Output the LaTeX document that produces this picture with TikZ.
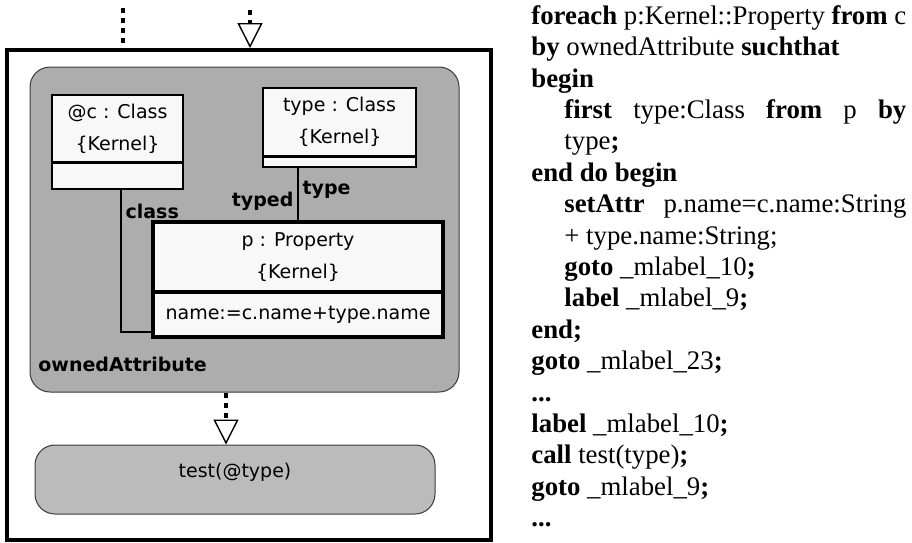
\documentclass[tikz,border=0pt]{standalone}
\usepackage{fontspec}
\newfontfamily\umlfont{DejaVu Sans}
\newfontfamily\codefont{Liberation Serif}
\usetikzlibrary{arrows.meta,positioning}

\definecolor{loopgray}{HTML}{ADADAD}
\definecolor{callgray}{HTML}{BBBBBB}
\definecolor{boxfill}{HTML}{F8F8F8}
\definecolor{edgegray}{HTML}{3A3A3A}

\tikzset{
  umltext/.style={font=\umlfont\fontsize{9.5}{16}\selectfont},
  objbox/.style={draw, line width=0.8pt, fill=boxfill, umltext, align=center, inner sep=0pt, outer sep=0pt},
  rolelabel/.style={font=\umlfont\bfseries\fontsize{9.5}{11}\selectfont, inner sep=2pt},
  dotline/.style={line width=2pt, dash pattern=on 2.5pt off 2.5pt},
  opentip/.style={-{Triangle[open, length=12.5pt, width=12.5pt, line width=0.7pt]}}
}

\begin{document}
\begin{tikzpicture}[x=0.5pt, y=-0.5pt]
  \useasboundingbox (0,0) rectangle (912,542);
  % rule frame and incoming flows
  \node[draw, line width=2pt, minimum width=242pt, minimum height=245pt, inner sep=0pt] (frame) at (249,295) {};
  \coordinate (src1) at (123,8);
  \coordinate (src2) at (250,10);
  \draw[dotline] (src1) -- (src1 |- frame.north);
  \draw[dotline, opentip] (src2) -- (src2 |- frame.north);

  % foreach region
  \node[draw=edgegray, line width=0.5pt, fill=loopgray, rounded corners=10pt, minimum width=214.5pt, minimum height=162.5pt] (loop) at (244.5,229.5) {};
  \node[rolelabel, anchor=west, inner sep=0pt] (loopname) at (38,364) {ownedAttribute};

  % objects
  \node[objbox, minimum width=65.5pt, minimum height=33.5pt] (cls) at (117.5,128.5) {@c : Class\\\{Kernel\}};
  \node[objbox, minimum width=65.5pt, minimum height=13.5pt, anchor=north] (clsatt) at (cls.south) {};
  \draw[line width=1.5pt] (cls.south west) -- (cls.south east);

  \node[objbox, minimum width=76.5pt, minimum height=34pt] (tcls) at (339.5,122) {type : Class\\\{Kernel\}};
  \node[objbox, minimum width=76.5pt, minimum height=5.5pt, anchor=north] (tclsatt) at (tcls.south) {};
  \draw[line width=1.5pt] (tcls.south west) -- (tcls.south east);

  \node[objbox, line width=2pt, minimum width=145pt, minimum height=35pt] (prop) at (298,257) {p : Property\\\{Kernel\}};
  \node[objbox, line width=2pt, minimum width=145pt, minimum height=22.5pt, anchor=north] (propatt) at (prop.south) {name:=c.name+type.name};

  % links
  \draw[line width=0.6pt] ([xshift=1.75pt]clsatt.south) |- ([yshift=2.5pt]propatt.south west)
    node[pos=0.077, anchor=west, rolelabel] (lblclass) {class};
  \draw[line width=0.6pt] (prop.north) -- (prop.north |- tclsatt.south)
    node[pos=0.38, anchor=east, rolelabel] (lbltyped) {typed}
    node[pos=0.58, anchor=west, rolelabel] (lbltype) {type};

  % call
  \node[draw=edgegray, line width=0.5pt, fill=callgray, rounded corners=10pt, minimum width=200pt, minimum height=34.5pt, umltext, text height=7pt, text depth=9.5pt] (test) at (235,479.5) {test(@type)};
  \coordinate (callin) at ([xshift=-4.5pt]test.north);
  \draw[dotline, opentip] (loop.south -| callin) -- (callin);

  % textual form
  \node[anchor=north west, inner sep=0pt, align=left, font=\codefont\fontsize{13.4}{15.7}\selectfont] (code) at (531,5) {%
    \textbf{foreach} p:Kernel::Property \textbf{from} c\\
    \textbf{by} ownedAttribute \textbf{suchthat}\\
    \textbf{begin}\\
    \hspace*{16.5pt}\makebox[171pt][s]{\textbf{first} type:Class \textbf{from} p \textbf{by}}\\
    \hspace*{16.5pt}type\textbf{;}\\
    \textbf{end do begin}\\
    \hspace*{16.5pt}\makebox[171pt][s]{\textbf{setAttr} p.name=c.name:String}\\
    \hspace*{16.5pt}+ type.name:String;\\
    \hspace*{16.5pt}\textbf{goto} \_mlabel\_10\textbf{;}\\
    \hspace*{16.5pt}\textbf{label} \_mlabel\_9\textbf{;}\\
    \textbf{end;}\\
    \textbf{goto} \_mlabel\_23\textbf{;}\\
    \textbf{...}\\
    \textbf{label} \_mlabel\_10\textbf{;}\\
    \textbf{call} test(type)\textbf{;}\\
    \textbf{goto} \_mlabel\_9\textbf{;}\\
    \textbf{...}};
\end{tikzpicture}
\end{document}
